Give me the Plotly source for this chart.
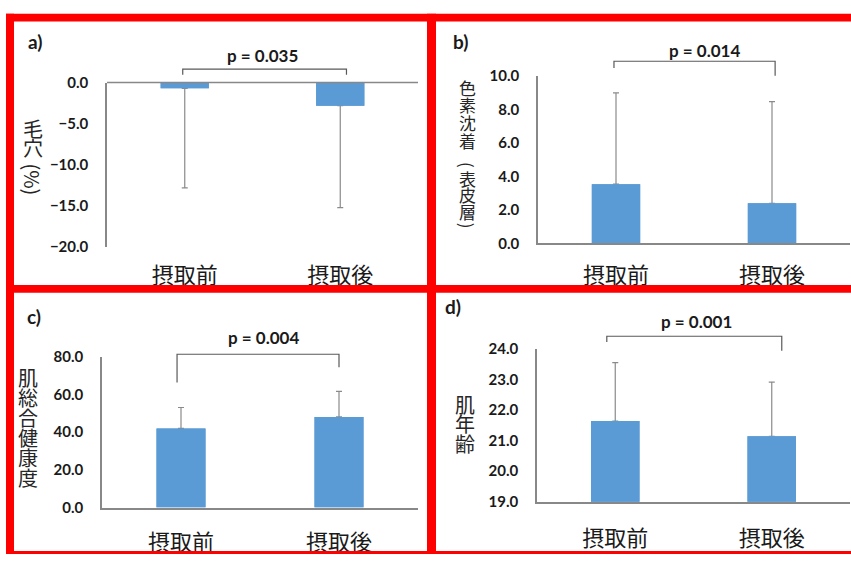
import plotly.graph_objects as go

W, H = 851, 562

# ---------------- data ----------------
categories = ["摂取前", "摂取後"]

pore_mean = [-0.7, -2.8]          # a) 毛穴 (%)
pore_sd = [12.1, 12.4]
pigment_mean = [3.53, 2.39]       # b) 色素沈着（表皮層）
pigment_sd = [5.45, 6.07]
health_mean = [42.0, 48.1]        # c) 肌総合健康度
health_sd = [11.1, 13.6]
age_mean = [21.64, 21.14]         # d) 肌年齢
age_sd = [1.91, 1.77]

p_values = ["p = 0.035", "p = 0.014", "p = 0.004", "p = 0.001"]
panel_labels = ["a)", "b)", "c)", "d)"]

ticks_a = [0, -5, -10, -15, -20]
ticks_b = [0, 2, 4, 6, 8, 10]
ticks_c = [0, 20, 40, 60, 80]
ticks_d = [19, 20, 21, 22, 23, 24]

# ---------------- style ----------------
BAR = "#5B9BD5"
AXIS = "#888888"
ERR = "#8a8a8a"
BRK = "#595959"
TXT = "#1a1a1a"
RED = "#FF0000"
NUM_FONT = "Lato"
CJK = "Noto Sans CJK JP"


def fx(px):
    return px / W


def fy(py):
    return 1 - py / H


boxes = [(107, 418, 75, 245), (538, 850, 68, 241), (102, 418, 358.3, 514), (537, 850, 350, 508)]
ranges = [[-20, 0], [0, 10], [0, 80], [19, 24]]
tickvals = [ticks_a, ticks_b, ticks_c, ticks_d]
means = [pore_mean, pigment_mean, health_mean, age_mean]
sds = [pore_sd, pigment_sd, health_sd, age_sd]
xlabel_len = [8, 12, 14, 16]

fig = go.Figure()
layout = dict(
    width=W, height=H, margin=dict(l=0, r=0, t=0, b=0),
    paper_bgcolor="white", plot_bgcolor="white", showlegend=False,
    barmode="overlay", shapes=[], annotations=[],
)

for i in range(4):
    n = "" if i == 0 else str(i + 1)
    xa, ya = "x" + n, "y" + n
    l, r, t, b = boxes[i]
    neg = means[i][0] < 0
    err = dict(type="data", symmetric=False, color=ERR, thickness=1.2, width=3)
    if neg:
        err.update(array=[0, 0], arrayminus=sds[i])
    else:
        err.update(array=sds[i], arrayminus=[0, 0])
    # bar carrying the error bars
    fig.add_trace(go.Bar(x=categories, y=means[i], xaxis=xa, yaxis=ya,
                         marker=dict(color=BAR, line=dict(width=0)),
                         width=0.31, error_y=err, hoverinfo="skip"))
    # same bar on top, hides the error-bar cap at the bar end
    fig.add_trace(go.Bar(x=categories, y=means[i], xaxis=xa, yaxis=ya,
                         marker=dict(color=BAR, line=dict(width=0)),
                         width=0.31, hoverinfo="skip"))
    layout["xaxis" + n] = dict(
        domain=[fx(l), fx(r)], anchor=ya, type="category", range=[-0.5, 1.5],
        showline=not neg, linecolor=AXIS, linewidth=1.5, showgrid=False,
        zeroline=False, ticks="outside", ticklen=xlabel_len[i],
        tickcolor="rgba(0,0,0,0)",
        tickfont=dict(family=CJK, size=22, color=TXT), fixedrange=True,
    )
    layout["yaxis" + n] = dict(
        domain=[fy(b), fy(t)], anchor=xa, range=ranges[i],
        tickvals=tickvals[i], tickformat=".1f",
        showline=True, linecolor=AXIS, linewidth=1.5, showgrid=False,
        zeroline=False, ticks="outside", ticklen=14, tickcolor="rgba(0,0,0,0)",
        tickfont=dict(family=NUM_FONT, size=15, color=TXT, weight="bold"),
        fixedrange=True,
    )

# zero line at the top of panel a (horizontal axis crosses at 0)
layout["shapes"].append(dict(type="line", xref="x domain", yref="y domain",
                             x0=0, x1=1, y0=1, y1=1,
                             line=dict(color=AXIS, width=1.5)))

# significance brackets: (x_left, x_right, y_bar, y_left_end, y_right_end), y in domain units
brackets = [
    (-0.013, 1.04, 1.082, 1.047, 1.047),
    (-0.013, 1.02, 1.087, 1.046, 1.0),
    (-0.025, 1.0, 1.017, 0.829, 0.931),
    (-0.054, 1.064, 1.082, 1.044, 0.987),
]
p_pos = [(0.50, 1.165), (0.57, 1.150), (0.52, 1.130), (0.52, 1.177)]
for i in range(4):
    n = "" if i == 0 else str(i + 1)
    x0, x1, yb, yl, yr = brackets[i]
    layout["shapes"].append(dict(
        type="path", xref="x" + n, yref="y" + n + " domain",
        path=f"M {x0},{yl} L {x0},{yb} L {x1},{yb} L {x1},{yr}",
        line=dict(color=BRK, width=1.2)))
    px_, py_ = p_pos[i]
    layout["annotations"].append(dict(
        text=p_values[i], xref="x" + n, yref="y" + n + " domain",
        x=px_, y=py_, showarrow=False, xanchor="center", yanchor="middle",
        font=dict(family=NUM_FONT, size=17, color=TXT, weight="bold")))

# panel letters
label_pos = [(35, 33), (460, 33), (34, 317), (453, 306)]
for lab, (lx, ly) in zip(panel_labels, label_pos):
    layout["annotations"].append(dict(
        text=lab, xref="paper", yref="paper", x=fx(lx), y=fy(ly),
        showarrow=False, xanchor="center", yanchor="middle",
        font=dict(family=NUM_FONT, size=19, color=TXT, weight="bold")))

# vertical stacked axis titles: (chars, x center, y centers, font size, rotated flags)
titles = [
    (["毛", "穴", "(%)"], 33, [122, 142, 175], 20, [0, 0, 1]),
    (["色", "素", "沈", "着", "(", "表", "皮", "層", ")"], 467,
     [80, 98, 116, 135, 160, 174, 191, 208, 223], 17, [0, 0, 0, 0, 1, 0, 0, 0, 1]),
    (["肌", "総", "合", "健", "康", "度"], 28, [380, 400, 421, 442, 462, 483], 20, [0] * 6),
    (["肌", "年", "齢"], 465, [408, 427, 448], 20, [0] * 3),
]
for chars, tx, tys, fs, rot in titles:
    for ch, ty, rt in zip(chars, tys, rot):
        layout["annotations"].append(dict(
            text=ch, xref="paper", yref="paper", x=fx(tx), y=fy(ty),
            showarrow=False, xanchor="center", yanchor="middle",
            textangle=90 if rt else 0,
            font=dict(family=CJK, size=fs, color="#262626")))

# red panel frames
frames = [
    (6, 851, 4, 12), (6, 14, 4, 562), (427, 436, 4, 562),
    (6, 851, 284, 292), (6, 851, 559, 562),
]
for x0, x1, y0, y1 in frames:
    layout["shapes"].append(dict(type="rect", xref="paper", yref="paper",
                                 x0=fx(x0), x1=fx(x1), y0=fy(y1), y1=fy(y0),
                                 fillcolor=RED, line=dict(width=0)))

fig.update_layout(**layout)
fig.write_html("out.html", config={"displayModeBar": False},
               post_script="document.body.style.margin='0';document.body.style.overflow='hidden';")
